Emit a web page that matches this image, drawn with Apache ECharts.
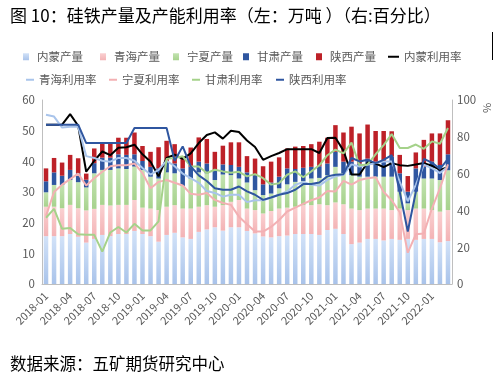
<!DOCTYPE html>
<html><head><meta charset="utf-8">
<script src="https://cdn.jsdelivr.net/npm/echarts@6/dist/echarts.min.js"></script>
<style>html,body{margin:0;padding:0;background:#fff}#c{width:493px;height:381px}</style>
</head><body><div id="c"></div>
<script>
const categories = ['2018-01','2018-02','2018-03','2018-04','2018-05','2018-06','2018-07','2018-08','2018-09','2018-10','2018-11','2018-12',
'2019-01','2019-02','2019-03','2019-04','2019-05','2019-06','2019-07','2019-08','2019-09','2019-10','2019-11','2019-12',
'2020-01','2020-02','2020-03','2020-04','2020-05','2020-06','2020-07','2020-08','2020-09','2020-10','2020-11','2020-12',
'2021-01','2021-02','2021-03','2021-04','2021-05','2021-06','2021-07','2021-08','2021-09','2021-10','2021-11','2021-12',
'2022-01','2022-02','2022-03'];
// 产量（万吨）
const imOutput = [15.6,15.6,15.6,16.3,15.4,13.5,14.7,16.0,15.6,16.3,16.3,17.3,16.3,15.6,13.8,16.0,16.7,15.2,14.7,17.0,17.8,18.5,17.4,18.5,18.5,17.3,16.5,15.5,15.2,15.6,15.8,16.3,16.3,16.3,16.0,17.6,18.0,16.3,13.0,13.5,14.7,14.7,14.2,14.7,14.4,14.7,14.4,14.7,14.7,13.6,14.0];
const qhOutput = [9.6,9.6,9.1,9.5,9.3,10.5,9.8,9.8,10.0,9.5,9.5,10.1,8.6,9.0,10.3,9.2,9.0,9.4,9.9,8.2,7.9,6.7,8.3,8.3,8.9,7.3,7.6,7.5,8.6,9.0,9.1,8.9,9.4,9.4,10.0,8.1,8.6,9.7,11.6,10.6,9.9,9.9,10.4,9.4,10.2,9.4,10.2,9.9,9.4,10.0,10.1];
const nxOutput = [4.7,7.1,7.6,8.1,8.5,7.5,11.6,11.4,11.6,11.9,11.7,10.9,12.3,10.4,10.3,11.2,10.4,7.4,9.8,11.2,10.4,8.7,10.0,8.7,7.0,8.5,6.5,6.0,5.7,6.6,7.6,8.1,7.9,8.7,8.6,9.8,11.6,10.1,10.9,10.9,10.4,10.4,10.4,10.9,5.5,2.2,5.5,9.8,10.3,10.3,13.0];
const gsOutput = [3.6,4.1,3.0,3.3,2.9,2.5,3.3,4.0,4.0,4.6,4.6,4.0,2.9,3.2,3.3,3.5,3.2,5.7,3.8,3.5,3.2,3.2,3.3,3.3,3.8,3.3,4.9,3.5,3.6,3.8,5.2,4.2,4.3,3.8,3.8,3.8,4.9,3.8,4.4,4.3,5.9,4.9,4.9,6.5,6.0,3.8,7.6,3.8,5.5,4.9,5.2];
const sxOutput = [4.2,4.7,4.3,4.9,4.9,2.0,4.8,5.0,5.0,5.4,5.6,7.1,4.9,4.9,6.9,6.8,6.3,3.8,6.3,7.9,8.0,6.0,6.1,7.4,8.0,5.3,5.4,5.9,6.8,6.3,6.5,7.3,7.1,7.4,8.0,8.4,8.7,9.5,11.4,9.8,11.1,10.0,10.0,8.3,6.0,5.1,5.2,8.8,9.2,10.3,11.1];
// 产能利用率（%）
const imRate = [86.6,86.6,86.6,92.3,86.0,61.0,67.0,72.0,70.0,74.0,74.3,75.7,70.5,66.5,58.5,68.5,70.3,68.0,71.0,76.6,81.0,82.4,79.0,83.3,82.6,78.0,74.5,67.5,69.5,71.2,73.3,73.3,73.3,73.3,71.2,79.3,79.5,72.5,59.5,59.5,66.0,65.5,63.5,65.7,64.6,64.2,65.0,65.7,64.3,62.0,63.5];
const qhRate = [92,91,85,85.5,85.5,69.5,68.5,67,66.5,68.5,68.5,67,63,59.5,62,67,64,60,57.5,55,50.5,49.5,47.5,48.5,48.5,44.5,45.5,45.5,47,48.5,50.3,53.9,55.4,53.9,53.5,56.6,58.5,59.4,65,63.9,64.8,65.7,66.6,66.6,55.7,45,53.9,64.8,63,60.3,63.9];
const nxRate = [37,50,54,57,60,53.5,57.5,61,64,64.5,64.5,65.5,60.3,52,55.5,56.5,55,53.5,49,48.5,49.5,45.7,44,43,36.6,32.5,28.5,28.5,31,34.8,39.4,41.5,43.5,45.5,47,50.5,50.3,56,54,56.5,57.5,58,50,45.5,39,17,27,27.5,41,52,65];
const gsRate = [36,40.8,30,30.4,27,26.7,26.7,17.6,28,31,28,32.7,29.1,29.1,34,68,68.5,69.4,63.9,63.9,60.3,62.1,61.2,60.5,61,58.5,59.7,57.5,54,54.8,59.4,61.2,58,61.2,64.5,70,73,71,76.8,64.5,65,70.5,75.5,81.5,73.9,73.9,75.8,73.5,77.5,76.2,84.8];
const sxRate = [86.6,86.6,86.6,86.6,86.6,76.6,76.6,76.6,76.6,76.6,76.6,84.8,84.8,84.8,84.8,84.8,67,74.8,63.9,59,56,52,51.2,51.2,53,50.3,48.5,45.7,47,48.5,49.4,51.2,54.3,54.3,55.2,58.5,59.4,59.7,68.5,66.6,67.5,65.7,67.5,70,50,28.5,50,68,66,62.5,68];
const leftTicks = {min:0, max:60, interval:10};
const rightTicks = {min:0, max:100, interval:20};

const FONT = '"Noto Sans CJK SC","Noto Sans",sans-serif';
const grad = (a,b) => new echarts.graphic.LinearGradient(0,0,0,1,[{offset:0,color:a},{offset:1,color:b}]);
const barDefs = [
  {name:'内蒙产量', data:imOutput, color:grad('#d2e2f8','#a9c3ea')},
  {name:'青海产量', data:qhOutput, color:grad('#fad0d1','#f3b3b5')},
  {name:'宁夏产量', data:nxOutput, color:grad('#c3e3b1','#a7d28d')},
  {name:'甘肃产量', data:gsOutput, color:'#2f56a0'},
  {name:'陕西产量', data:sxOutput, color:'#bd2128'}
];
const lineDefs = [
  {name:'内蒙利用率', data:imRate, color:'#000000'},
  {name:'青海利用率', data:qhRate, color:'#a9c4eb'},
  {name:'宁夏利用率', data:nxRate, color:'#f3b0b3'},
  {name:'甘肃利用率', data:gsRate, color:'#a5d28a'},
  {name:'陕西利用率', data:sxRate, color:'#2f56a0'}
];
const series = [];
barDefs.forEach(d => series.push({
  name:d.name, type:'bar', stack:'out', yAxisIndex:0, data:d.data,
  barWidth:'56%', itemStyle:{color:d.color}, emphasis:{disabled:true}
}));
lineDefs.forEach(d => series.push({
  name:d.name, type:'line', yAxisIndex:1, data:d.data, symbol:'none',
  lineStyle:{color:d.color, width:2}, itemStyle:{color:d.color}, z:3
}));

const legendPos = [
  [23,51,'bar'],[100,51,'bar'],[173,51,'bar'],[243,51,'bar'],[316,51,'bar'],[388,51,'line12'],
  [26,74,'line'],[109,74,'line'],[192,74,'line'],[276,74,'line']
];
const allNames = barDefs.map(d=>d.name).concat(lineDefs.map(d=>d.name));
const legends = allNames.map((n,i) => {
  const p = legendPos[i];
  const isBar = p[2]==='bar';
  return {
    data:[n], left:p[0], top:p[1], orient:'horizontal', padding:0, itemGap:0,
    icon:'rect', itemWidth: isBar?6:(p[2]==='line12'?11:8), itemHeight: isBar?7:2,
    textStyle:{fontFamily:FONT, fontSize:11.5, color:'#595959', padding: isBar?[0,0,0,3]:[0,0,0,0]},
    selectedMode:false
  };
});

const chart = echarts.init(document.getElementById('c'), null, {renderer:'canvas'});
chart.setOption({
  animation:false,
  backgroundColor:'#fff',
  textStyle:{fontFamily:FONT},
  grid:{left:42, right:41, top:100, bottom:97, containLabel:false},
  legend: legends,
  xAxis:{type:'category', data:categories, boundaryGap:true,
    axisLine:{show:true, lineStyle:{color:'#bfbfbf', width:1}},
    axisTick:{show:false},
    axisLabel:{interval:2, rotate:45, fontSize:11, color:'#595959', margin:10, fontFamily:FONT}
  },
  yAxis:[
    {type:'value', min:leftTicks.min, max:leftTicks.max, interval:leftTicks.interval,
     axisLine:{show:true, lineStyle:{color:'#bfbfbf'}}, axisTick:{show:false}, splitLine:{show:false},
     axisLabel:{fontSize:11.5, color:'#595959', margin:7, fontFamily:FONT}},
    {type:'value', min:rightTicks.min, max:rightTicks.max, interval:rightTicks.interval, position:'right',
     axisLine:{show:true, lineStyle:{color:'#bfbfbf'}}, axisTick:{show:false}, splitLine:{show:false},
     axisLabel:{fontSize:11.5, color:'#595959', margin:5, fontFamily:FONT}}
  ],
  series: series,
  graphic:[
    {type:'text', left:10, top:7, style:{text:'图 10：硅铁产量及产能利用率（左：万吨 ）（右:百分比）', font:'17px '+FONT, fill:'#000'}},
    {type:'text', left:10, top:355, style:{text:'数据来源：五矿期货研究中心', font:'16.5px '+FONT, fill:'#000'}},
    {type:'text', x:481, y:113, rotation:Math.PI/2, style:{text:'%', font:'11px '+FONT, fill:'#595959'}},
    {type:'line', shape:{x1:492.5, y1:32, x2:492.5, y2:60}, style:{stroke:'#000', lineWidth:1}}
  ]
});
</script></body></html>
